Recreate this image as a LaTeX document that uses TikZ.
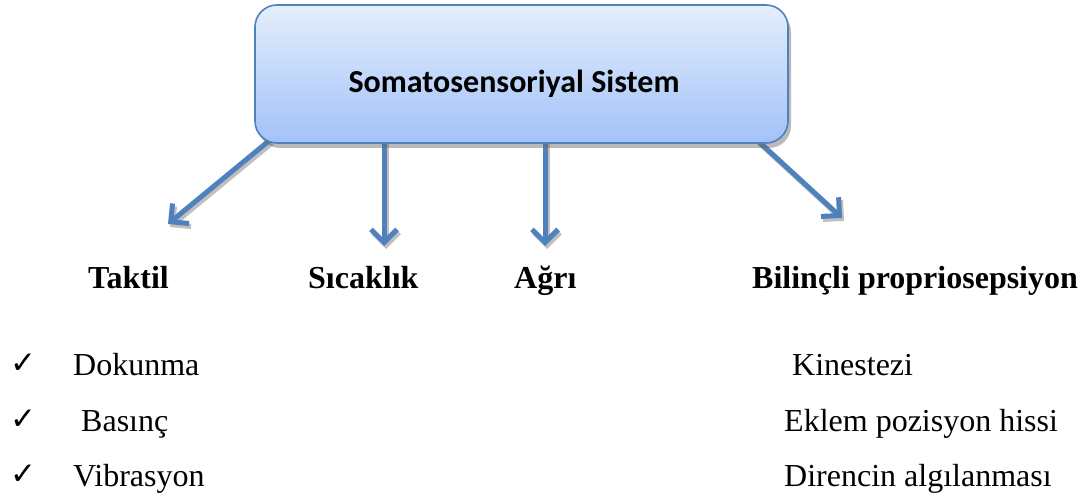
\documentclass[tikz,border=0pt]{standalone}
\usepackage{fontspec}
\setmainfont{Liberation Serif}
\newfontfamily\boxfont{Carlito}
\newfontfamily\symfont{DejaVu Sans}
\usetikzlibrary{arrows.meta,shadows}
\definecolor{arrowblue}{HTML}{4F81BD}
\definecolor{boxtop}{HTML}{E4EEFC}
\definecolor{boxbottom}{HTML}{A2C2F8}
\definecolor{boxborder}{HTML}{4F81BD}
\begin{document}
\begin{tikzpicture}[x=1pt,y=-1pt,
  sysbox/.style={draw=boxborder, line width=1.6pt, rounded corners=22pt,
    top color=boxtop, bottom color=boxbottom,
    minimum width=533pt, minimum height=138pt, inner sep=0pt,
    drop shadow={shadow xshift=3pt, shadow yshift=-5pt, opacity=.45, fill=black!60}},
  systext/.style={font=\boxfont\bfseries\fontsize{32}{38}\selectfont, anchor=base},
  cat/.style={font=\bfseries\fontsize{32}{38}\selectfont, anchor=base west, inner sep=0pt},
  item/.style={font=\fontsize{32}{38}\selectfont, anchor=base west, inner sep=0pt},
  chk/.style={font=\symfont\fontsize{31}{36}\selectfont, anchor=base west, inner sep=0pt},
  arr/.style={draw=arrowblue, line width=5pt, -{Straight Barb[length=13pt,width=26pt]}},
  arrshadow/.style={draw=black!25, line width=5pt, -{Straight Barb[length=13pt,width=26pt]}}
]
\useasboundingbox (0,0) rectangle (1085,497);

% arrow endpoints
\coordinate (s1) at (270,140);
\coordinate (t1) at (168,224);
\coordinate (s2) at (384,140);
\coordinate (t2) at (384,246);
\coordinate (s3) at (545,140);
\coordinate (t3) at (545,246);
\coordinate (s4) at (757,140);
\coordinate (t4) at (842,218);

% soft arrow shadows
\begin{scope}[transform canvas={xshift=2pt,yshift=-3pt}]
  \draw[arrshadow] (s1) -- (t1);
  \draw[arrshadow] (s2) -- (t2);
  \draw[arrshadow] (s3) -- (t3);
  \draw[arrshadow] (s4) -- (t4);
\end{scope}

% arrows
\draw[arr] (s1) -- (t1);
\draw[arr] (s2) -- (t2);
\draw[arr] (s3) -- (t3);
\draw[arr] (s4) -- (t4);

% main box
\node[sysbox] (sys) at (521.5,74) {};
\node[systext] (systitle) at (514,93) {Somatosensoriyal Sistem};

% categories
\node[cat] (taktil) at (88,288) {Taktil};
\node[cat] (sicaklik) at (308,288) {Sıcaklık};
\node[cat] (agri) at (514,288) {Ağrı};
\node[cat] (bilincli) at (752,288) {Bilinçli propriosepsiyon};

% left list
\node[chk] (c1) at (10,373) {✓};
\node[chk] (c2) at (10,429) {✓};
\node[chk] (c3) at (10,484) {✓};
\node[item] (dok) at (73,375) {Dokunma};
\node[item] (bas) at (81,431) {Basınç};
\node[item] (vib) at (73,486) {Vibrasyon};

% right list
\node[item] (kin) at (792,375) {Kinestezi};
\node[item] (ekl) at (784,431) {Eklem pozisyon hissi};
\node[item] (dir) at (784,486) {Direncin algılanması};
\end{tikzpicture}
\end{document}
